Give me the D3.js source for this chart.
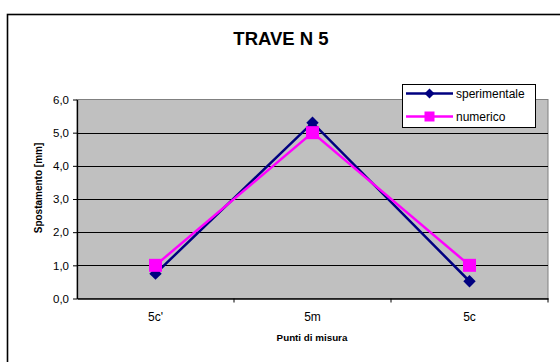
<!DOCTYPE html>
<html><head><meta charset="utf-8">
<script src="https://cdn.jsdelivr.net/npm/d3@7"></script>
<style>body{margin:0;background:#fff}svg{display:block;font-family:"Liberation Sans",Arial,sans-serif}</style>
</head><body>
<svg id="c" width="560" height="362"></svg>
<script>
const categories = ["5c'", "5m", "5c"];
const sperimentale = [0.75, 5.3, 0.52];
const numerico = [1.0, 5.0, 1.0];
const yTicks = [0, 1, 2, 3, 4, 5, 6];
const seriesNames = ["sperimentale", "numerico"];
const chartTitle = "TRAVE N 5";
const xTitle = "Punti di misura";
const yTitle = "Spostamento [mm]";

const svg = d3.select("#c");
const L = 77, R = 548, T = 99.5, B = 298.5;

svg.append("rect").attr("x", 7.5).attr("y", 14.5).attr("width", 600).attr("height", 400)
  .attr("fill", "#fff").attr("stroke", "#000").attr("stroke-width", 1.6);

const x = d3.scaleBand().domain(categories).range([L, R]).padding(0);
const y = d3.scaleLinear().domain([0, 6]).range([B, T]);

svg.append("rect").attr("x", L).attr("y", T).attr("width", R - L).attr("height", B - T)
  .attr("fill", "#C0C0C0").attr("stroke", "#808080").attr("stroke-width", 1);

svg.append("g").selectAll("line").data(yTicks.filter(d => d > 0 && d < 6)).join("line")
  .attr("x1", L).attr("x2", R).attr("y1", d => Math.round(y(d)) + 0.5).attr("y2", d => Math.round(y(d)) + 0.5)
  .attr("stroke", "#000").attr("stroke-width", 1);

const yAxis = svg.append("g").attr("transform", `translate(${L},0)`)
  .call(d3.axisLeft(y).tickValues(yTicks).tickSize(4).tickSizeOuter(0)
    .tickFormat(d => d3.format(".1f")(d).replace(".", ",")));
yAxis.select(".domain").attr("stroke", "#000").attr("stroke-width", 1.3);
yAxis.selectAll("text").attr("font-size", 11.5).attr("fill", "#000").attr("dx", -1);

const xAxis = svg.append("g").attr("transform", `translate(0,${B})`)
  .call(d3.axisBottom(x).tickSize(0).tickSizeOuter(0));
xAxis.select(".domain").attr("stroke", "#000").attr("stroke-width", 1.3);
xAxis.selectAll("text").attr("font-size", 12).attr("fill", "#000").attr("dy", "1.6em");
xAxis.selectAll(".bound").data([L + x.step(), L + 2 * x.step(), R]).join("line")
  .attr("x1", d => d).attr("x2", d => d).attr("y1", 0).attr("y2", 4)
  .attr("stroke", "#000").attr("stroke-width", 1);

svg.append("text").attr("x", 281).attr("y", 45).attr("text-anchor", "middle")
  .attr("font-size", 18.5).attr("font-weight", "bold").text(chartTitle);
svg.append("text").attr("x", 312).attr("y", 341).attr("text-anchor", "middle")
  .attr("font-size", 9.8).attr("font-weight", "bold").text(xTitle);
svg.append("text").attr("transform", "translate(41.5,188) rotate(-90)").attr("text-anchor", "middle")
  .attr("font-size", 10).attr("font-weight", "bold").text(yTitle);

const cx = d => x(d) + x.bandwidth() / 2;
const line = d3.line().x((d, i) => cx(categories[i])).y(d => y(d));

svg.append("path").datum(sperimentale).attr("d", line).attr("fill", "none")
  .attr("stroke", "#000080").attr("stroke-width", 2.5);
svg.append("g").selectAll("path").data(sperimentale).join("path")
  .attr("transform", (d, i) => `translate(${cx(categories[i])},${y(d)})`)
  .attr("d", "M0,-6.2L6.2,0L0,6.2L-6.2,0Z").attr("fill", "#000080");

svg.append("path").datum(numerico).attr("d", line).attr("fill", "none")
  .attr("stroke", "#FF00FF").attr("stroke-width", 2.5);
svg.append("g").selectAll("rect").data(numerico).join("rect")
  .attr("x", (d, i) => cx(categories[i]) - 6.5).attr("y", d => y(d) - 6.5)
  .attr("width", 13).attr("height", 13).attr("fill", "#FF00FF");

const lg = svg.append("g");
lg.append("rect").attr("x", 402.5).attr("y", 84.5).attr("width", 133).attr("height", 43)
  .attr("fill", "#fff").attr("stroke", "#000").attr("stroke-width", 1);
const ly = [93.5, 116.5];
lg.append("line").attr("x1", 406).attr("x2", 453).attr("y1", ly[0]).attr("y2", ly[0])
  .attr("stroke", "#000080").attr("stroke-width", 2.5);
lg.append("path").attr("transform", `translate(429.5,${ly[0]})`).attr("d", "M0,-5L5,0L0,5L-5,0Z").attr("fill", "#000080");
lg.append("line").attr("x1", 406).attr("x2", 453).attr("y1", ly[1]).attr("y2", ly[1])
  .attr("stroke", "#FF00FF").attr("stroke-width", 2.5);
lg.append("rect").attr("x", 424.5).attr("y", ly[1] - 5).attr("width", 10).attr("height", 10).attr("fill", "#FF00FF");
lg.selectAll("text.l").data(seriesNames).join("text")
  .attr("x", 456).attr("y", (d, i) => ly[i] + 4).attr("font-size", 12).text(d => d);
</script>
</body></html>
